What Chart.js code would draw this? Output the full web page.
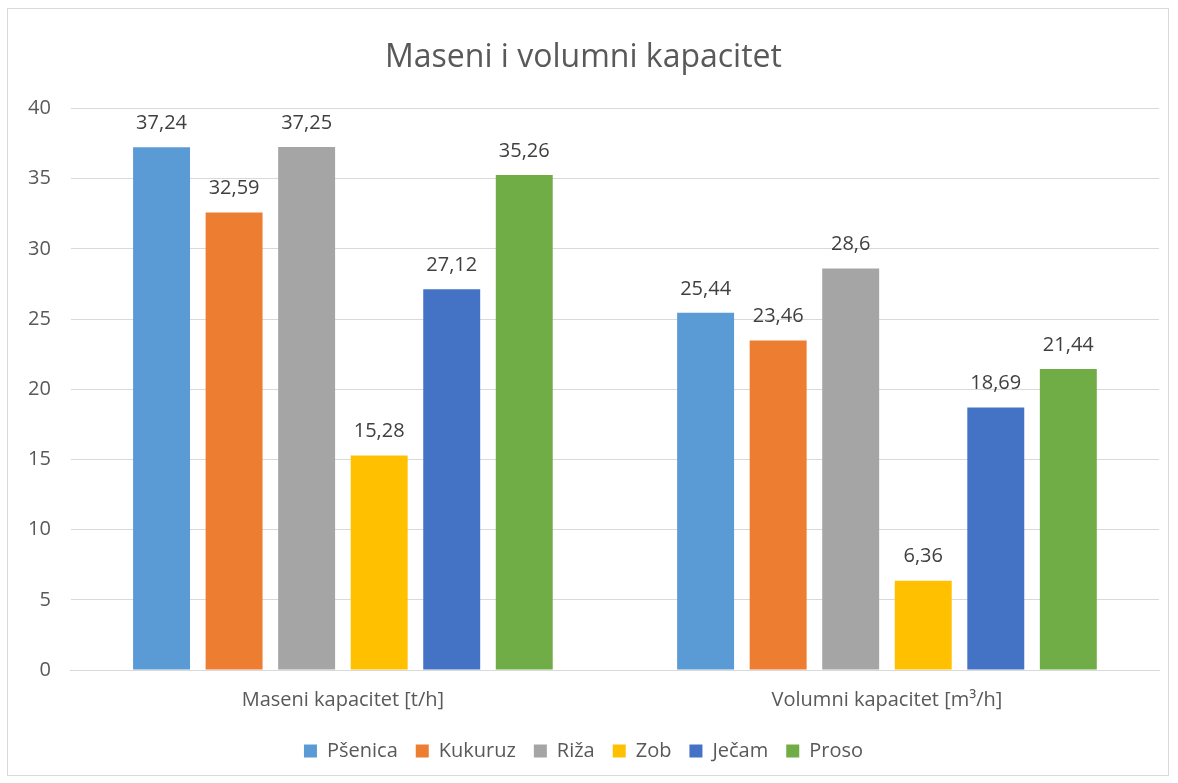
<!DOCTYPE html>
<html>
<head>
<meta charset="utf-8">
<script src="https://cdn.jsdelivr.net/npm/chart.js@4.4.0/dist/chart.umd.min.js"></script>
<style>
  html, body { margin: 0; padding: 0; background: #fff; }
  #wrap {
    position: absolute; left: 7px; top: 8px;
    width: 1162px; height: 768px;
    border: 1px solid #d9d9d9; box-sizing: border-box;
  }
</style>
</head>
<body>
<div id="wrap"><canvas id="chart"></canvas></div>
<script>
// categories and series
const categories = ['Maseni kapacitet [t/h]', 'Volumni kapacitet [m³/h]'];
const crops = ['Pšenica', 'Kukuruz', 'Riža', 'Zob', 'Ječam', 'Proso'];
const psenica = [37.24, 25.44];
const kukuruz = [32.59, 23.46];
const riza = [37.25, 28.6];
const zob = [15.28, 6.36];
const jecam = [27.12, 18.69];
const proso = [35.26, 21.44];
const colors = ['#5B9BD5', '#ED7D31', '#A5A5A5', '#FFC000', '#4472C4', '#70AD47'];

const FONT = '"Open Sans", sans-serif';
const TEXT = '#595959';

const seriesValues = [psenica, kukuruz, riza, zob, jecam, proso];

// value labels above the bars, comma as decimal mark
const valueLabels = {
    id: 'valueLabels',
    afterDatasetsDraw(chart) {
        const ctx = chart.ctx;
        ctx.save();
        ctx.font = '20px ' + FONT;
        ctx.fillStyle = '#404040';
        ctx.textAlign = 'center';
        ctx.textBaseline = 'middle';
        chart.data.datasets.forEach((ds, i) => {
            chart.getDatasetMeta(i).data.forEach((bar, j) => {
                const txt = String(ds.data[j]).replace('.', ',');
                ctx.fillText(txt, bar.x, bar.y - 24);
            });
        });
        ctx.restore();
    }
};

new Chart(document.getElementById('chart'), {
    type: 'bar',
    data: {
        labels: categories,
        datasets: crops.map((name, i) => ({
            label: name,
            data: seriesValues[i],
            backgroundColor: colors[i],
            barPercentage: 0.785,
            categoryPercentage: 0.8
        }))
    },
    options: {
        responsive: true,
        maintainAspectRatio: false,
        animation: false,
        layout: { padding: { left: 0, right: 9, top: 0, bottom: 4 } },
        plugins: {
            title: {
                display: true,
                text: 'Maseni i volumni kapacitet',
                color: TEXT,
                font: { family: FONT, size: 32, weight: 'normal' },
                padding: { top: 30, bottom: 31 }
            },
            legend: {
                position: 'bottom',
                labels: {
                    color: TEXT,
                    font: { family: FONT, size: 20 },
                    boxWidth: 13,
                    boxHeight: 13,
                    padding: 18
                }
            },
            tooltip: { enabled: false }
        },
        scales: {
            x: {
                grid: { display: false, drawTicks: false },
                border: { color: '#d9d9d9' },
                ticks: { color: TEXT, font: { family: FONT, size: 20 }, padding: 18 },
                afterFit: (scale) => { scale.height = 53; }
            },
            y: {
                min: 0, max: 40,
                grid: { color: '#d9d9d9', drawTicks: false },
                border: { display: false },
                ticks: { stepSize: 5, color: TEXT, font: { family: FONT, size: 20 }, padding: 20 }
            }
        }
    },
    plugins: [valueLabels]
});
</script>
</body>
</html>
